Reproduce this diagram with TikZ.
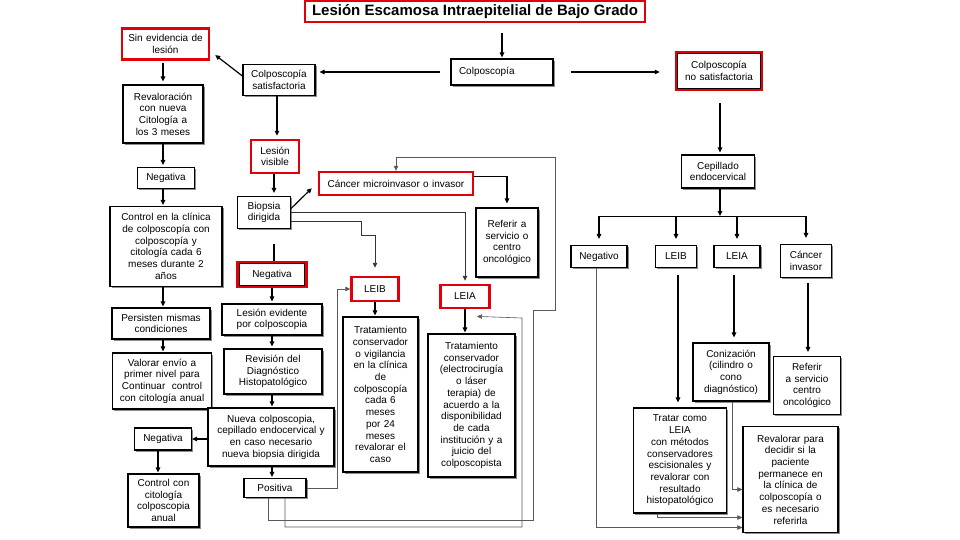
\documentclass[tikz,border=0pt]{standalone}
\usepackage{fontspec}
\setmainfont{Liberation Sans}
\usetikzlibrary{arrows.meta,shadows,calc}
\definecolor{rred}{RGB}{225,0,10}
\newcommand\fs{\fontsize{10}{11.7}\selectfont}
\newcommand\mybox[7]{\pgfmathsetmacro\mytw{#5-4}\node[#2, minimum width=#5pt, minimum height=#6pt, text width=\mytw pt] (#1) at (#3,#4) {#7};}
\begin{document}
\begin{tikzpicture}[x=1pt,y=-1pt,
  bx/.style={draw=black, line width=1.2pt, fill=white, align=center, inner sep=1pt, font=\fs,
    general shadow={fill=black!45, shadow xshift=1.8pt, shadow yshift=-1.8pt}},
  rbx/.style={draw=rred, line width=2.4pt, fill=white, align=center, inner sep=1pt, font=\fs},
  arr/.style={-{Triangle[length=5pt,width=4.5pt]}, line width=1.2pt},
  ln/.style={line width=0.6pt, draw=black!65},
  garr/.style={ln, -{Triangle[length=5pt,width=4.5pt]}},
  mln/.style={line width=0.9pt, draw=black!80},
  marr/.style={mln, -{Triangle[length=5pt,width=4.5pt]}},
]
\useasboundingbox[fill=white] (0,0) rectangle (960,540);

% ---------- nodes ----------
\node[rbx, minimum width=340pt, minimum height=21pt, font=\fontsize{15}{16}\selectfont\bfseries] (title) at (475,11.5) {Lesión Escamosa Intraepitelial de Bajo Grado};
\mybox{colp}{bx, align=left, inner xsep=8pt}{502}{72}{90}{26}{Colposcopía}
\mybox{colpsat}{bx}{279}{80}{72}{31}{Colposcopía\\satisfactoria}
\mybox{sinev}{rbx}{165.5}{44}{87}{31}{Sin evidencia de\\lesión}
\mybox{colpno}{rbx}{719}{71}{86}{38}{Colposcopía\\no satisfactoria}
\draw[line width=0.9pt] ([shift={(3pt,-3pt)}]colpno.north west) rectangle ([shift={(-3pt,3pt)}]colpno.south east);

\mybox{reval}{bx}{163}{114}{80}{58}{Revaloración\\con nueva\\Citología a\\los 3 meses}
\mybox{neg1}{bx}{166}{178}{57}{21}{Negativa}
\mybox{control1}{bx}{166}{246.5}{112}{80}{Control en la clínica\\de colposcopía con\\colposcopía y\\citología cada 6\\meses durante 2\\años}
\mybox{persist}{bx}{161}{323.5}{98}{31}{Persisten mismas\\condiciones}
\mybox{valorar}{bx}{162}{381}{99}{56}{Valorar envío a\\primer nivel para\\Continuar\ \ control\\con citología anual}
\mybox{neg2}{bx}{163}{439}{57}{22}{Negativa}
\mybox{control2}{bx}{163.5}{500.5}{71}{53}{Control con\\citología\\colposcopia\\anual}

\mybox{lesvis}{rbx}{275}{156.5}{48}{33}{Lesión\\visible}
\mybox{biopsia}{bx}{264}{212.5}{53}{32}{Biopsia\\dirigida}
\mybox{neg3}{rbx}{272}{274.5}{69}{25}{Negativa}
\draw[line width=0.9pt] ([shift={(3pt,-3pt)}]neg3.north west) rectangle ([shift={(-3pt,3pt)}]neg3.south east);
\mybox{lesev}{bx}{272}{319.5}{100}{31}{Lesión evidente\\por colposcopia}
\mybox{revision}{bx}{273}{371.5}{98}{45}{Revisión del\\Diagnóstico\\Histopatológico}
\mybox{nueva}{bx}{271}{437}{126}{58}{Nueva colposcopia,\\cepillado endocervical y\\en caso necesario\\nueva biopsia dirigida}
\mybox{positiva}{bx}{275}{488}{62}{19}{Positiva}

\mybox{cancer}{rbx}{396}{183.5}{154}{23}{Cáncer microinvasor o invasor}
\mybox{referir1}{bx}{507}{242.5}{62}{69}{Referir a\\servicio o\\centro\\oncológico}
\mybox{leib1}{rbx}{375}{289}{47}{24}{LEIB}
\mybox{trat1}{bx}{380.5}{394.5}{75}{155}{Tratamiento\\conservador\\o vigilancia\\en la clínica\\de\\colposcopía\\cada 6\\meses\\por 24\\meses\\revalorar el\\caso}
\mybox{leia1}{rbx}{465}{296.5}{49}{23}{LEIA}
\mybox{trat2}{bx}{471.5}{405.5}{87}{143}{Tratamiento\\conservador\\(electrocirugía\\o láser\\terapia) de\\acuerdo a la\\disponibilidad\\de cada\\institución y a\\juicio del\\colposcopista}

\mybox{cepillado}{bx}{718}{171.5}{73}{33}{Cepillado\\endocervical}
\mybox{negativo}{bx}{599}{256.5}{56}{22}{Negativo}
\mybox{leib2}{bx}{676}{256.5}{41}{22}{LEIB}
\mybox{leia2}{bx}{737}{256.5}{46}{22}{LEIA}
\mybox{cinv}{bx}{806}{261}{51}{33}{Cáncer\\invasor}
\mybox{coniz}{bx}{731}{372}{76}{58}{Conización\\(cilindro o\\cono\\diagnóstico)}
\mybox{referir2}{bx}{807}{385.5}{67}{58}{Referir\\a servicio\\centro\\oncológico}
\mybox{tratar}{bx}{680}{460.5}{93}{105}{Tratar como\\LEIA\\con métodos\\conservadores\\escisionales y\\revalorar con\\resultado\\histopatológico}
\mybox{revalorar}{bx}{790.5}{479.5}{95}{106}{Revalorar para\\decidir si la\\paciente\\permanece en\\la clínica de\\colposcopía o\\es necesario\\referirla}

% ---------- connectors ----------
\coordinate (xL) at (163,0);
\coordinate (xL2) at (158,0);
\coordinate (xM) at (277,0);
\coordinate (xM2) at (274,0);
\coordinate (xM3) at (272,0);

\draw[arr, shorten <=10pt, shorten >=1pt] (title.south -| colp.north) -- (colp.north);
\draw[arr, shorten <=10pt, shorten >=4pt] (colp.west) -- (colp.west -| colpsat.east);
\draw[arr, shorten <=17pt, shorten >=15pt] (colp.east) -- (colp.east -| colpno.west);
\draw[arr] ([yshift=4pt]colpsat.west) -- ([xshift=5pt,yshift=-11pt]sinev.east);

\draw[arr, shorten <=2pt, shorten >=3pt] (sinev.south -| xL) -- (reval.north -| xL);
\draw[arr, shorten >=2pt] (reval.south -| xL) -- (neg1.north -| xL);
\draw[arr, shorten >=1pt] (neg1.south -| xL) -- (control1.north -| xL);
\draw[arr, shorten >=1pt] (control1.south -| xL) -- (persist.north -| xL);
\draw[arr, shorten >=1pt] (persist.south -| xL) -- (valorar.north -| xL);
\draw[arr] (nueva.west |- neg2.east) -- (neg2.east);
\draw[arr, shorten >=1pt] (neg2.south -| xL2) -- (control2.north -| xL2);

\draw[arr, shorten >=3pt] (colpsat.south -| xM) -- (lesvis.north -| xM);
\draw[arr, shorten >=3pt] (lesvis.south -| xM2) -- (biopsia.north -| xM2);
\draw[line width=1.2pt] ([yshift=-15pt]biopsia.south -| xM2) -- (neg3.north -| xM2);
\draw[arr, shorten >=2pt] (neg3.south -| xM3) -- (lesev.north -| xM3);
\draw[arr, shorten >=2pt] (lesev.south -| xM3) -- (revision.north -| xM3);
\draw[arr, shorten >=1pt] (revision.south -| xM3) -- (nueva.north -| xM3);
\draw[arr, shorten >=1pt] (nueva.south -| xM3) -- (positiva.north -| xM3);

\draw[arr] ([yshift=4pt]biopsia.east) -- ([xshift=-6pt,yshift=8pt]cancer.south west);
\draw[marr, shorten >=3pt] (biopsia.east) -- (biopsia.east -| leia1.north) -- (leia1.north);
\draw[marr, shorten >=8pt] ([yshift=-9pt]biopsia.east) -- ++(70,0) -- ++(0,14) -| (leib1.north);
\draw[arr, shorten >=4pt] ([yshift=7pt]cancer.east) -| (referir1.north);
\draw[arr, shorten >=1pt] (leib1.south) -- (leib1.south |- trat1.north);
\draw[arr, shorten >=1pt] (leia1.south) -- (leia1.south |- trat2.north);

\draw[garr] (positiva.east) -- ++(31,0) |- (leib1.west);
\draw[garr] ([xshift=-7pt]positiva.south) |- (533,520) -- (533,310) -- (555,310) -- (555,157) -| (cancer.north);
\draw[garr] ([xshift=10pt]positiva.south) |- (522,527) -- (522,318) -- ([xshift=5.5pt,yshift=17pt]trat2.north);

% right part
\coordinate (bus) at (720,216);
\draw[arr, shorten <=12pt, shorten >=2pt] (colpno.south -| bus) -- (cepillado.north -| bus);
\draw[arr] (cepillado.south -| bus) -- (bus);
\draw[line width=0.9pt] (bus -| negativo.north) -- (bus -| cinv.north);
\draw[arr, shorten >=6pt] (bus -| negativo.north) -- (negativo.north);
\draw[arr, shorten >=6pt] (bus -| leib2.north) -- (leib2.north);
\draw[arr, shorten >=6pt] (bus -| leia2.north) -- (leia2.north);
\draw[arr, shorten >=6pt] (bus -| cinv.north) -- (cinv.north);
\draw[arr, shorten <=7pt, shorten >=5pt] ([xshift=2pt]leib2.south) -- ([xshift=2pt]leib2.south |- tratar.north);
\draw[arr, shorten <=7pt, shorten >=5pt] ([xshift=-3pt]leia2.south) -- ([xshift=-3pt]leia2.south |- coniz.north);
\draw[arr, shorten <=5pt, shorten >=4pt] ([xshift=2pt]cinv.south) -- ([xshift=2pt]cinv.south |- referir2.north);
\draw[garr] ([xshift=1pt]coniz.south) |- ([yshift=-10pt]revalorar.west);
\draw[garr] ([xshift=-23pt]tratar.south) |- ([yshift=-38pt]revalorar.west);
\draw[garr] ([xshift=-3pt]negativo.south) |- ([yshift=-48pt]revalorar.west);
\end{tikzpicture}
\end{document}
